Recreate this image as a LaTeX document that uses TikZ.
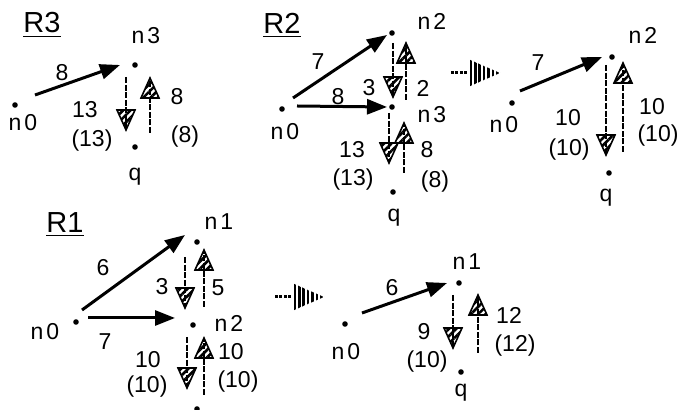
\documentclass[tikz,border=0pt]{standalone}
\usepackage{fontspec}
\setmainfont{Liberation Sans}
\usetikzlibrary{arrows.meta,decorations.markings,patterns.meta}
\newcommand\numfont{\fontsize{11.5}{13}\selectfont}
\newcommand\runfont{\fontsize{14.5}{17}\selectfont}
\newcommand\nlab[1]{n\kern1.5pt#1}

\begin{document}
\begin{tikzpicture}[x=0.5pt, y=-0.5pt,
  dot/.style={circle, fill, inner sep=0pt, minimum size=2.8pt},
  txt/.style={font=\numfont, inner sep=0pt},
  runlbl/.style={font=\runfont, inner sep=0pt},
  move/.style={-{Triangle[length=10pt,width=7.5pt]}, line width=1.5pt},
  flow/.style={line width=0.9pt, dash pattern=on 3pt off 0.8pt,
    decoration={markings, mark=at position 1 with {
      \draw[solid, line width=0.8pt, pattern={Lines[angle=45,distance=2.6pt,line width=1.3pt]}]
        (0pt,0pt) -- (-10pt,4.5pt) -- (-10pt,-4.5pt) -- cycle;}},
    postaction={decorate}},
  nextarrow/.pic={
    \draw[line width=1.5pt, dash pattern=on 1.4pt off 0.8pt] (-17,0) -- (0,0);
    \fill[pattern={Lines[angle=90,distance=2.2pt,line width=1.3pt]}] (0,-14) -- (32,0) -- (0,14) -- cycle;
  }]
  \useasboundingbox (0,0) rectangle (680,410);

  % R3
  \node[runlbl] (r3) at (42,25) {\underline{R3}};
  \foreach \nm/\x/\y in {r3n0/15/105, r3n3/135/65, r3q/135/147}
    \node[dot] (\nm) at (\x,\y) {};
  \foreach \nm/\x/\y/\t in {r3n0t/23/123/\nlab0, r3n3t/146/36/\nlab3, r3qt/135/177/q,
      r3w1/62/73/8, r3w2/85/110/13, r3w3/92/141/(13), r3w4/177/97/8, r3w5/185/137/(8)}
    \node[txt] (\nm) at (\x,\y) {\t};
  \draw[move] ([shift={(20,-10)}]r3n0.center) -- ([shift={(-15,0)}]r3n3.center);
  \draw[flow] ([shift={(-9,12)}]r3n3.center) -- ([shift={(-9,-17)}]r3q.center);
  \draw[flow] ([shift={(15,-14)}]r3q.center) -- ([shift={(15,13)}]r3n3.center);

  % R2, before
  \node[runlbl] (r2) at (282,25) {\underline{R2}};
  \foreach \nm/\x/\y in {r2n0/282/109, r2n2/392/33, r2n3/392/107, r2q/393/192}
    \node[dot] (\nm) at (\x,\y) {};
  \foreach \nm/\x/\y/\t in {r2n0t/285/132/\nlab0, r2n2t/432/21/\nlab2, r2n3t/432/115/\nlab3, r2qt/394/218/q,
      r2w1/318/62/7, r2w2/338/97/8, r2w3/369/88/3, r2w4/423/88/2,
      r2w5/352/150/13, r2w6/353/180/(13), r2w7/427/150/8, r2w8/435/182/(8)}
    \node[txt] (\nm) at (\x,\y) {\t};
  \draw[move] ([shift={(11,-11)}]r2n0.center) -- ([shift={(-5,2)}]r2n2.center);
  \draw[move] ([shift={(15,-3)}]r2n0.center) -- ([shift={(-5,0)}]r2n3.center);
  \draw[flow] ([shift={(1,10)}]r2n2.center) -- ([shift={(1,-10)}]r2n3.center);
  \draw[flow] ([shift={(14,-7)}]r2n3.center) -- ([shift={(14,10)}]r2n2.center);
  \draw[flow] ([shift={(-3,6)}]r2n3.center) -- ([shift={(-4,-29)}]r2q.center);
  \draw[flow] ([shift={(11,-19)}]r2q.center) -- ([shift={(12,16)}]r2n3.center);

  \pic at (468,73) {nextarrow};

  % R2, after
  \foreach \nm/\x/\y in {r2bn0/512/103, r2bn2/612/57, r2bq/609/173}
    \node[dot] (\nm) at (\x,\y) {};
  \foreach \nm/\x/\y/\t in {r2bn0t/504/125/\nlab0, r2bn2t/643/35/\nlab2, r2bqt/606/198/q,
      r2bw1/538/63/7, r2bw2/568/118/10, r2bw3/569/150/(10), r2bw4/652/107/10, r2bw5/658/136/(10)}
    \node[txt] (\nm) at (\x,\y) {\t};
  \draw[move] ([shift={(8,-12)}]r2bn0.center) -- ([shift={(-10,0)}]r2bn2.center);
  \draw[flow] ([shift={(-6,8)}]r2bn2.center) -- ([shift={(-3,-18)}]r2bq.center);
  \draw[flow] ([shift={(14,-21)}]r2bq.center) -- ([shift={(11,6)}]r2bn2.center);

  % R1, before
  \node[runlbl] (r1) at (65,225) {\underline{R1}};
  \foreach \nm/\x/\y in {r1n0/76/322, r1n1/197/242, r1n2/193/325, r1q/197/409}
    \node[dot] (\nm) at (\x,\y) {};
  \foreach \nm/\x/\y/\t in {r1n0t/45/332/\nlab0, r1n1t/219/222/\nlab1, r1n2t/229/323/\nlab2,
      r1w1/103/268/6, r1w2/105/342/7, r1w3/162/287/3, r1w4/218/288/5,
      r1w5/148/360/10, r1w6/147/387/(10), r1w7/231/352/10, r1w8/238/382/(10)}
    \node[txt] (\nm) at (\x,\y) {\t};
  \draw[move] ([shift={(6,-12)}]r1n0.center) -- ([shift={(-12,-7)}]r1n1.center);
  \draw[move] ([shift={(12,-4)}]r1n0.center) -- ([shift={(-18,-7)}]r1n2.center);
  \draw[flow] ([shift={(-12,15)}]r1n1.center) -- ([shift={(-8,-17)}]r1n2.center);
  \draw[flow] ([shift={(11,-18)}]r1n2.center) -- ([shift={(7,8)}]r1n1.center);
  \draw[flow] ([shift={(-6,12)}]r1n2.center) -- ([shift={(-10,-21)}]r1q.center);
  \draw[flow] ([shift={(7,-14)}]r1q.center) -- ([shift={(11,13)}]r1n2.center);

  \pic at (292,297) {nextarrow};

  % R1, after
  \foreach \nm/\x/\y in {r1bn0/345/324, r1bn1/459/283, r1bq/461/372}
    \node[dot] (\nm) at (\x,\y) {};
  \foreach \nm/\x/\y/\t in {r1bn0t/346/352/\nlab0, r1bn1t/467/262/\nlab1, r1bqt/461/393/q,
      r1bw1/392/288/6, r1bw2/424/332/9, r1bw3/427/362/(10), r1bw4/509/315/12, r1bw5/515/346/(12)}
    \node[txt] (\nm) at (\x,\y) {\t};
  \draw[move] ([shift={(17,-11)}]r1bn0.center) -- ([shift={(-12,0)}]r1bn1.center);
  \draw[flow] ([shift={(-6,12)}]r1bn1.center) -- ([shift={(-8,-24)}]r1bq.center);
  \draw[flow] ([shift={(17,-19)}]r1bq.center) -- ([shift={(19,12)}]r1bn1.center);
\end{tikzpicture}
\end{document}
